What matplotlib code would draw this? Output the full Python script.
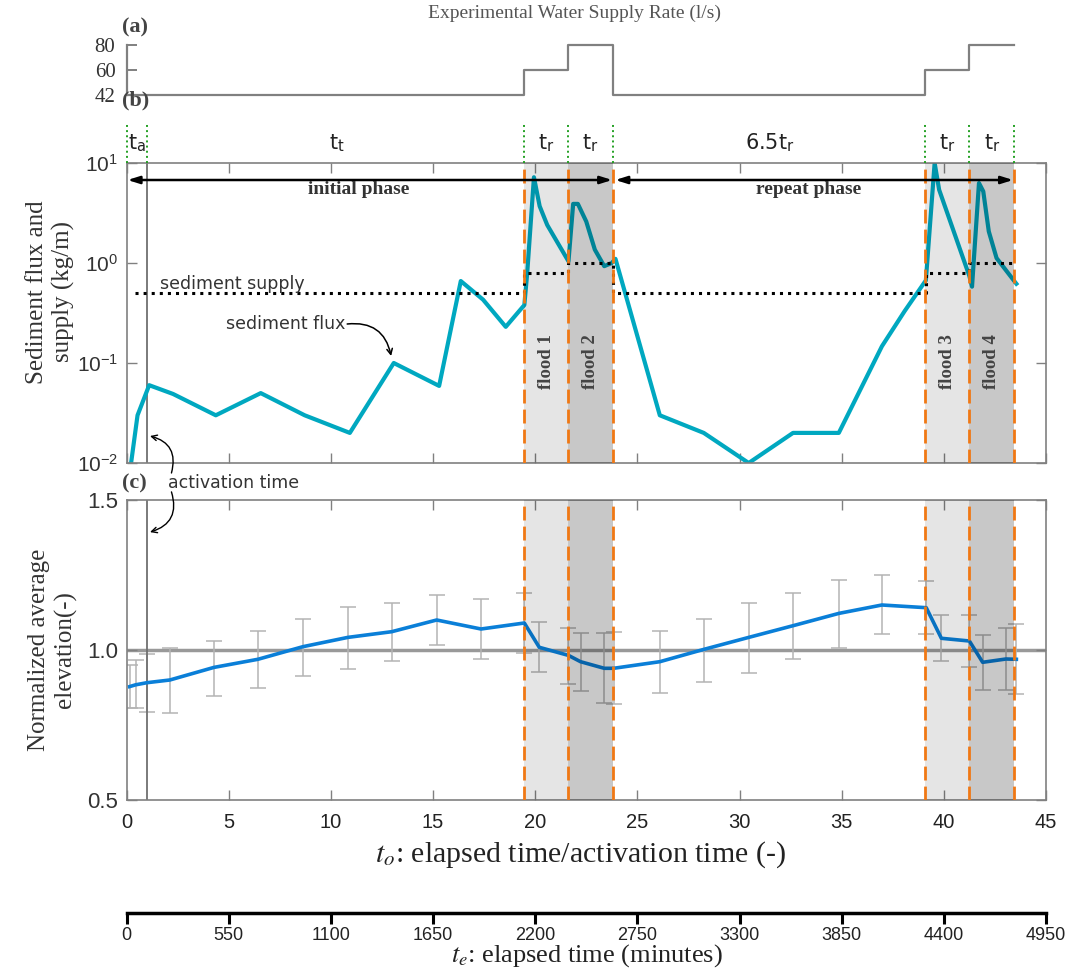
import numpy as np
from matplotlib import pyplot as plt

plt.rcParams['font.family'] = ['Liberation Sans', 'DejaVu Sans']
plt.rcParams['mathtext.fontset'] = 'stix'

# water supply steps (panel a)
supply_edges = [0, 19.46, 21.63, 23.82, 39.09, 41.25, 43.44]
supply_rate = [42, 60, 80, 42, 60, 80]
rate_levels = [42, 60, 80]

# flood windows and phase boundaries
flood_bounds = [19.46, 21.63, 23.82, 39.09, 41.25, 43.44]
flood_names = ['flood 1', 'flood 2', 'flood 3', 'flood 4']
t_a = 1.0

# sediment flux (panel b)
flux_x = [0.21, 0.54, 1.11, 2.28, 4.37, 6.57, 8.72, 10.93, 13.08, 15.30, 16.36, 17.45, 18.56,
          19.47, 19.61, 19.94, 20.22, 20.59, 21.63, 21.86, 22.09, 22.50, 22.92, 23.38, 23.75,
          23.93, 26.10, 28.25, 30.45, 32.62, 34.86, 36.97, 38.08, 39.12, 39.55, 39.77, 41.25,
          41.38, 41.72, 41.93, 42.20, 42.58, 43.55]
flux_y = [0.0095, 0.030, 0.060, 0.049, 0.030, 0.050, 0.030, 0.020, 0.100, 0.059, 0.66, 0.43, 0.23,
          0.38, 0.79, 7.2, 3.7, 2.4, 1.04, 3.9, 3.9, 2.6, 1.36, 0.93, 1.0,
          1.1, 0.030, 0.020, 0.010, 0.020, 0.020, 0.147, 0.33, 0.67, 10.0, 5.4, 0.74,
          0.58, 6.3, 5.2, 2.07, 1.12, 0.62]

# sediment supply (panel b)
sed_edges = [0.4, 19.46, 21.63, 23.82, 39.12, 41.25, 43.5]
sed_supply = [0.5, 0.8, 1.0, 0.5, 0.8, 1.0]

# normalized elevation (panel c)
elev_x = [0.15, 0.45, 1.0, 2.12, 4.28, 6.43, 8.63, 10.83, 12.98, 15.18, 17.35, 19.47, 20.2,
          21.63, 22.22, 23.38, 23.84, 26.1, 28.25, 30.45, 32.62, 34.86, 36.97, 39.14, 39.88,
          41.25, 41.9, 43.04, 43.55]
elev = [0.878, 0.884, 0.891, 0.900, 0.942, 0.969, 1.011, 1.042, 1.061, 1.100, 1.070, 1.090, 1.009,
        0.982, 0.961, 0.939, 0.939, 0.961, 1.002, 1.042, 1.081, 1.122, 1.150, 1.141, 1.039,
        1.030, 0.959, 0.970, 0.969]
elev_lo = [0.806, 0.806, 0.792, 0.791, 0.847, 0.872, 0.914, 0.938, 0.964, 1.017, 0.970, 0.989, 0.926,
           0.886, 0.863, 0.824, 0.819, 0.856, 0.894, 0.922, 0.969, 1.006, 1.052, 1.052, 0.963,
           0.942, 0.867, 0.867, 0.852]
elev_hi = [0.950, 0.967, 0.987, 1.006, 1.031, 1.064, 1.104, 1.142, 1.156, 1.182, 1.169, 1.191, 1.092,
           1.072, 1.056, 1.056, 1.059, 1.062, 1.104, 1.157, 1.191, 1.233, 1.249, 1.229, 1.117,
           1.117, 1.050, 1.073, 1.086]

# labels above panel b
interval_pos = [0.5, 10.3, 20.55, 22.72, 31.5, 40.17, 42.35]
interval_pre = ['', '', '', '', '6.5', '', '']
interval_sub = ['a', 't', 'r', 'r', 'r', 'r', 'r']

minute_ticks = list(range(0, 4951, 550))

W, H = 1089, 972
fig = plt.figure(figsize=(W / 100, H / 100), dpi=100)
L = 126.5 / W
Wd = 919.5 / W
ax_a = fig.add_axes([L, 1 - 100 / H, Wd, 60 / H])
ax_b = fig.add_axes([L, 1 - 463 / H, Wd, 300 / H])
ax_c = fig.add_axes([L, 1 - 800 / H, Wd, 300 / H])
ax_t = fig.add_axes([L, 1 - 913 / H, Wd, 0.001])

frame_col = '#808080'
orange = '#f07814'
serif = ['Liberation Serif', 'DejaVu Serif']

# ---- panel (a)
lvl = [rate_levels.index(r) for r in supply_rate]
ax_a.step(supply_edges, lvl + [lvl[-1]], where='post', color='#808080', lw=1.6)
ax_a.set_xlim(0, 45)
ax_a.set_ylim(-0.2, 2.2)
for s in ['top', 'right', 'bottom']:
    ax_a.spines[s].set_visible(False)
ax_a.spines['left'].set_bounds(0, 2)
ax_a.spines['left'].set_color(frame_col)
ax_a.spines['left'].set_linewidth(1.6)
ax_a.set_xticks([])
ax_a.set_yticks(range(3))
ax_a.set_yticklabels([str(r) for r in rate_levels], family=serif, fontsize=15, color='#333333')
ax_a.tick_params(axis='y', direction='in', length=7, color=frame_col, width=1.4, pad=8)
ax_a.patch.set_visible(False)
fig.text(574 / W, 1 - 13 / H, 'Experimental Water Supply Rate (l/s)', ha='center', va='center',
         family=serif, fontsize=14, color='#555555')
for lab, yp in [('(a)', 27), ('(b)', 100), ('(c)', 483)]:
    fig.text(122 / W, 1 - yp / H, lab, ha='left', va='center', family=serif, fontsize=16,
             fontweight='bold', color='#444444')

# ---- shared decoration for b and c
bands = [(flood_bounds[0], flood_bounds[1]), (flood_bounds[1], flood_bounds[2]),
         (flood_bounds[3], flood_bounds[4]), (flood_bounds[4], flood_bounds[5])]
for ax in (ax_b, ax_c):
    for i, (x0, x1) in enumerate(bands):
        ax.axvspan(x0, x1, color='black', alpha=0.1 if i % 2 == 0 else 0.215, lw=0, zorder=3)
    for xb in flood_bounds:
        ax.axvline(xb, color=orange, lw=2, ls=(0, (5, 2.2)), zorder=5)
    ax.axvline(t_a, color='#707070', lw=1.3, zorder=2)
    ax.set_xlim(0, 45)
    ax.set_xticks(range(0, 46, 5))
    ax.tick_params(direction='in', length=7, color=frame_col, top=True, right=True, width=1)
    for s in ax.spines.values():
        s.set_color(frame_col)
        s.set_linewidth(1.2)

# ---- panel (b)
ax_b.plot(flux_x, flux_y, color='#00a8c0', lw=3, zorder=2)
ax_b.step(sed_edges, sed_supply + [sed_supply[-1]], where='post', color='black', lw=2.2,
          ls=':', zorder=2)
ax_b.set_yscale('log')
ax_b.set_ylim(0.01, 10)
ax_b.minorticks_off()
ax_b.set_yticks([0.01, 0.1, 1, 10])
ax_b.set_xticklabels([])
ax_b.tick_params(axis='y', labelsize=15, labelcolor='#333333', pad=6)
ax_b.set_ylabel('Sediment flux and\nsupply (kg/m)', family=serif, fontsize=18, color='#333333')
ax_b.yaxis.set_label_coords(-0.056, 0.57)

for (x0, x1), name in zip(bands, flood_names):
    ax_b.text((x0 + x1) / 2, 0.337, name, transform=ax_b.get_xaxis_transform(), rotation=90,
              ha='center', va='center', family=serif, fontsize=13.5, fontweight='bold',
              color='#444444', zorder=6)

arr_y = 10 ** 0.83
ax_b.annotate('', xy=(0.05, arr_y), xytext=(flood_bounds[2] - 0.05, arr_y),
              arrowprops=dict(arrowstyle='<|-|>,head_length=0.7,head_width=0.22', color='black',
                              lw=1.8, shrinkA=0, shrinkB=0), zorder=7)
ax_b.annotate('', xy=(flood_bounds[2] + 0.1, arr_y), xytext=(flood_bounds[5] - 0.05, arr_y),
              arrowprops=dict(arrowstyle='<|-|>,head_length=0.7,head_width=0.22', color='black',
                              lw=1.8, shrinkA=0, shrinkB=0), zorder=7)
ax_b.text(11.36, 10 ** 0.74, 'initial phase', ha='center', va='center', family=serif,
          fontsize=14, fontweight='bold', color='#333333', zorder=7)
ax_b.text(33.36, 10 ** 0.74, 'repeat phase', ha='center', va='center', family=serif,
          fontsize=14, fontweight='bold', color='#333333', zorder=7)

ax_b.text(1.64, 10 ** -0.26, 'sediment supply', ha='left', va='baseline', family='DejaVu Sans',
          fontsize=12.5, color='#333333', zorder=7)
ax_b.text(10.7, 10 ** -0.61, 'sediment flux', ha='right', va='center', family='DejaVu Sans',
          fontsize=12.5, color='#333333', zorder=7)
ax_b.annotate('', xy=(12.95, 10 ** -0.93), xytext=(10.8, 10 ** -0.61),
              arrowprops=dict(arrowstyle='->', color='black', lw=1.1, shrinkA=0, shrinkB=0,
                              connectionstyle='arc3,rad=-0.45'), zorder=7)

# interval labels and green dotted markers above panel b
xt = ax_b.get_xaxis_transform()
for xg in [0.0, t_a] + flood_bounds:
    ax_b.plot([xg, xg], [1.0, 1.135], transform=xt, color='#22a022', lw=1.4, ls=':',
              clip_on=False, zorder=6)
for xp, pre, sub in zip(interval_pos, interval_pre, interval_sub):
    ax_b.text(xp, 1.067, pre + r't$_{\mathregular{' + sub + '}}$', transform=xt, ha='center',
              va='center', family='DejaVu Sans', fontsize=15, color='#222222')

# ---- panel (c)
ax_c.axhline(1.0, color='#999999', lw=2.5, zorder=1)
elev_a = np.array(elev)
yerr = [elev_a - np.array(elev_lo), np.array(elev_hi) - elev_a]
ax_c.errorbar(elev_x, elev, yerr=yerr, fmt='none', ecolor='#b4b4b4', elinewidth=1.1,
              capsize=6, capthick=1.1, zorder=1.5)
ax_c.plot(elev_x, elev, color='#0a7fd8', lw=2.6, zorder=2)
ax_c.set_ylim(0.5, 1.5)
ax_c.set_yticks([0.5, 1.0, 1.5])
ax_c.set_yticklabels(['0.5', '1.0', '1.5'])
ax_c.tick_params(axis='y', labelsize=16, labelcolor='#333333', pad=6)
ax_c.set_xticklabels([str(v) for v in range(0, 46, 5)], fontsize=14.5, color='#222222')
ax_c.tick_params(axis='x', pad=9)
ax_c.set_ylabel('Normalized average\nelevation(-)', family=serif, fontsize=18, color='#333333')
ax_c.yaxis.set_label_coords(-0.054, 0.5)
fig.text(580 / W, 1 - 855 / H, r'$t_o$: elapsed time/activation time (-)', ha='center',
         va='center', family=serif, fontsize=21.5, color='#222222')

# activation time annotation
ax_c.text(2.03, 1.557, 'activation time', ha='left', va='center', family='DejaVu Sans',
          fontsize=12.5, color='#333333')
ax_c.annotate('', xy=(1.15, 10 ** -1.73), xycoords=ax_b.transData, xytext=(2.2, 1.59),
              textcoords=ax_c.transData,
              arrowprops=dict(arrowstyle='->', color='black', lw=1.0, shrinkA=0, shrinkB=0,
                              connectionstyle='arc3,rad=0.5'), annotation_clip=False)
ax_c.annotate('', xy=(1.15, 1.393), xytext=(2.2, 1.527),
              arrowprops=dict(arrowstyle='->', color='black', lw=1.0, shrinkA=0, shrinkB=0,
                              connectionstyle='arc3,rad=-0.5'), annotation_clip=False)

# ---- minutes axis
ax_t.set_xlim(0, 4950)
ax_t.set_xticks(minute_ticks)
ax_t.set_xticklabels([str(v) for v in minute_ticks], fontsize=13, color='#222222')
ax_t.set_yticks([])
for s in ['top', 'left', 'right']:
    ax_t.spines[s].set_visible(False)
ax_t.spines['bottom'].set_linewidth(2.5)
ax_t.spines['bottom'].set_color('black')
ax_t.tick_params(axis='x', direction='out', length=8, width=2.2, color='black', pad=2)
ax_t.patch.set_visible(False)
fig.text(587 / W, 3 / H, r'$t_e$: elapsed time (minutes)', ha='center', va='bottom',
         family=serif, fontsize=19, color='#222222')

fig.savefig('out.png', dpi=100)
